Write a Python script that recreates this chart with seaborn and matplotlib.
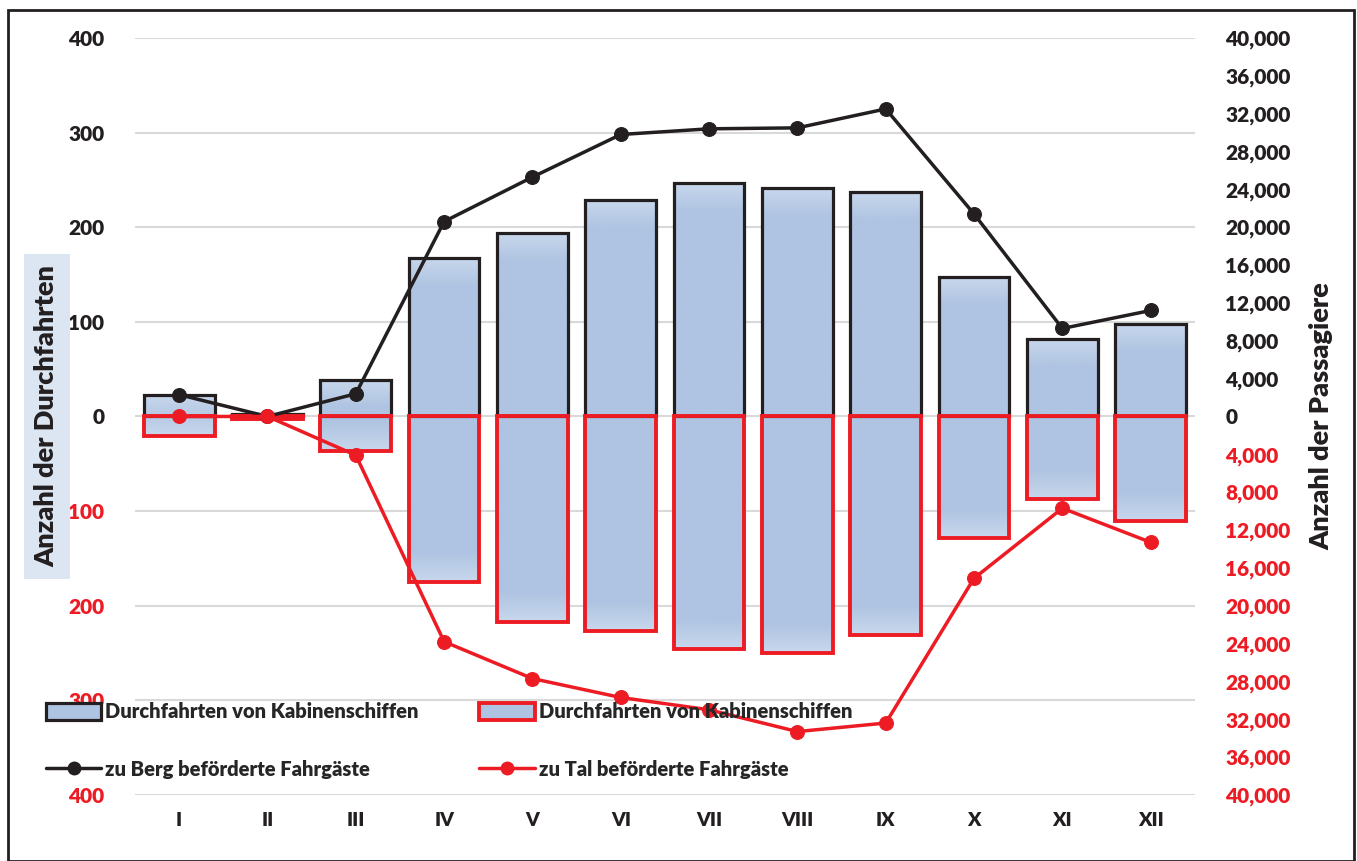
import numpy as np
import pandas as pd
import matplotlib
matplotlib.use("Agg")
import matplotlib.pyplot as plt
import matplotlib.patches as mpatches
from matplotlib.lines import Line2D
from matplotlib.colors import to_rgb
import seaborn as sns

# Data
months = ['I', 'II', 'III', 'IV', 'V', 'VI', 'VII', 'VIII', 'IX', 'X', 'XI', 'XII']
trips_up = [23, 3, 39, 167, 194, 229, 247, 241, 237, 147, 82, 98]
trips_down = [21, 3, 37, 175, 217, 227, 246, 250, 231, 128, 87, 110]
pax_up = [2300, 0, 2400, 20600, 25300, 29800, 30400, 30500, 32500, 21400, 9300, 11200]
pax_down = [0, 0, 4100, 23800, 27700, 29700, 31000, 33300, 32400, 17100, 9700, 13300]

left_ticks = [-400, -300, -200, -100, 0, 100, 200, 300, 400]
right_ticks = list(range(-40000, 40001, 4000))

df = pd.DataFrame({
    'Monat': months,
    'up': trips_up,
    'down': [-v for v in trips_down],
    'pax_up': pax_up,
    'pax_down': [-v for v in pax_down],
})

sns.set_theme(style="white")
plt.rcParams['font.family'] = ['Lato', 'DejaVu Sans']
plt.rcParams['font.weight'] = 'heavy'

RED = '#ed1c24'
DARK = '#231f20'
BLUE = '#afc4e2'
BLUE_LIGHT = '#c8d7ec'
W = 'heavy'

fig = plt.figure(figsize=(13.57, 8.61), dpi=100)
ax = fig.add_axes([0.0995, 0.0767, 0.781, 0.8792])

# bars (up = black edge, down = red edge)
sns.barplot(data=df, x='Monat', y='up', color=BLUE, width=0.8, ax=ax,
            edgecolor=DARK, linewidth=2.3, saturation=1, zorder=2)
sns.barplot(data=df, x='Monat', y='down', color=BLUE, width=0.8, ax=ax,
            edgecolor=RED, linewidth=2.8, saturation=1, zorder=2)

ax.set_ylim(-400, 400)
ax.set_xlim(-0.5, 11.5)

# light shading at the outer end of each bar
c0, c1 = np.array(to_rgb(BLUE_LIGHT)), np.array(to_rgb(BLUE))
for p in list(ax.patches):
    x, y0, w, h = p.get_x(), p.get_y(), p.get_width(), p.get_height()
    y1 = y0 + h
    dist = np.linspace(0, abs(h), 100)  # distance from the outer end
    t = np.clip(dist / 30.0, 0, 1)[:, None]
    img = (c0 * (1 - t) + c1 * t)[:, None, :]
    if h < 0:
        img = img[::-1]
    im = ax.imshow(img, extent=(x, x + w, min(y0, y1), max(y0, y1)), origin='upper',
                   aspect='auto', zorder=1.9, interpolation='bilinear')
    im.set_clip_path(p)
    p.set_facecolor('none')

ax.set_ylim(-400, 400)
ax.set_xlim(-0.5, 11.5)
ax.set_yticks(left_ticks)
ax.set_yticklabels([str(abs(t)) for t in left_ticks], fontweight=W)
for t, lab in zip(left_ticks, ax.get_yticklabels()):
    lab.set_color(RED if t < 0 else DARK)
ax.yaxis.grid(True, color='#d9d9d9', linewidth=1.5, zorder=0)
ax.set_axisbelow(True)
ax.tick_params(axis='y', length=0, pad=22, labelsize=15)
ax.tick_params(axis='x', length=0, pad=12, labelsize=14, colors=DARK)
for lab in ax.get_xticklabels():
    lab.set_fontweight(W)
ax.set_xlabel('')
ax.set_ylabel('Anzahl der Durchfahrten', fontsize=19.5, fontweight=W, color=DARK,
              bbox=dict(facecolor='#dce6f2', edgecolor='none', pad=8))
ax.yaxis.set_label_coords(-0.072, 0.5)
for s in ax.spines.values():
    s.set_visible(False)

# passenger lines on right axis
ax2 = ax.twinx()
sns.lineplot(data=df, x='Monat', y='pax_up', ax=ax2, color=DARK, linewidth=2.5,
             marker='o', markersize=10, markeredgecolor=DARK, sort=False)
sns.lineplot(data=df, x='Monat', y='pax_down', ax=ax2, color=RED, linewidth=2.5,
             marker='o', markersize=10, markeredgecolor=RED, sort=False)
ax2.set_ylim(-40000, 40000)
ax2.set_yticks(right_ticks)
ax2.set_yticklabels([f'{abs(t):,}' for t in right_ticks], fontweight=W)
for t, lab in zip(right_ticks, ax2.get_yticklabels()):
    lab.set_color(RED if t < 0 else DARK)
ax2.tick_params(axis='y', length=0, pad=22, labelsize=15)
ax2.set_ylabel('Anzahl der Passagiere', fontsize=19.5, fontweight=W, color=DARK)
ax2.yaxis.set_label_coords(1.108, 0.5)
ax2.grid(False)
for s in ax2.spines.values():
    s.set_visible(False)

# legend
handles = [
    mpatches.Patch(facecolor=BLUE, edgecolor=DARK, linewidth=2.3),
    Line2D([], [], color=DARK, linewidth=2.5, marker='o', markersize=9),
    mpatches.Patch(facecolor=BLUE, edgecolor=RED, linewidth=2.8),
    Line2D([], [], color=RED, linewidth=2.5, marker='o', markersize=9),
]
labels = ['Durchfahrten von Kabinenschiffen', 'zu Berg beförderte Fahrgäste',
          'Durchfahrten von Kabinenschiffen', 'zu Tal beförderte Fahrgäste']
fig.legend(handles, labels, ncol=2, loc='upper left', bbox_to_anchor=(0.0265, 0.196),
           frameon=False, handlelength=2.75, handleheight=0.9,
           handletextpad=0.2, columnspacing=3.0, labelspacing=1.9, borderpad=0,
           prop={'weight': W, 'size': 14.5})

# outer frame
fig.patches.append(mpatches.Rectangle((0.006, 0.0), 0.992, 0.988, transform=fig.transFigure,
                                      fill=False, edgecolor=DARK, linewidth=2))

plt.savefig('out.png', dpi=100)
